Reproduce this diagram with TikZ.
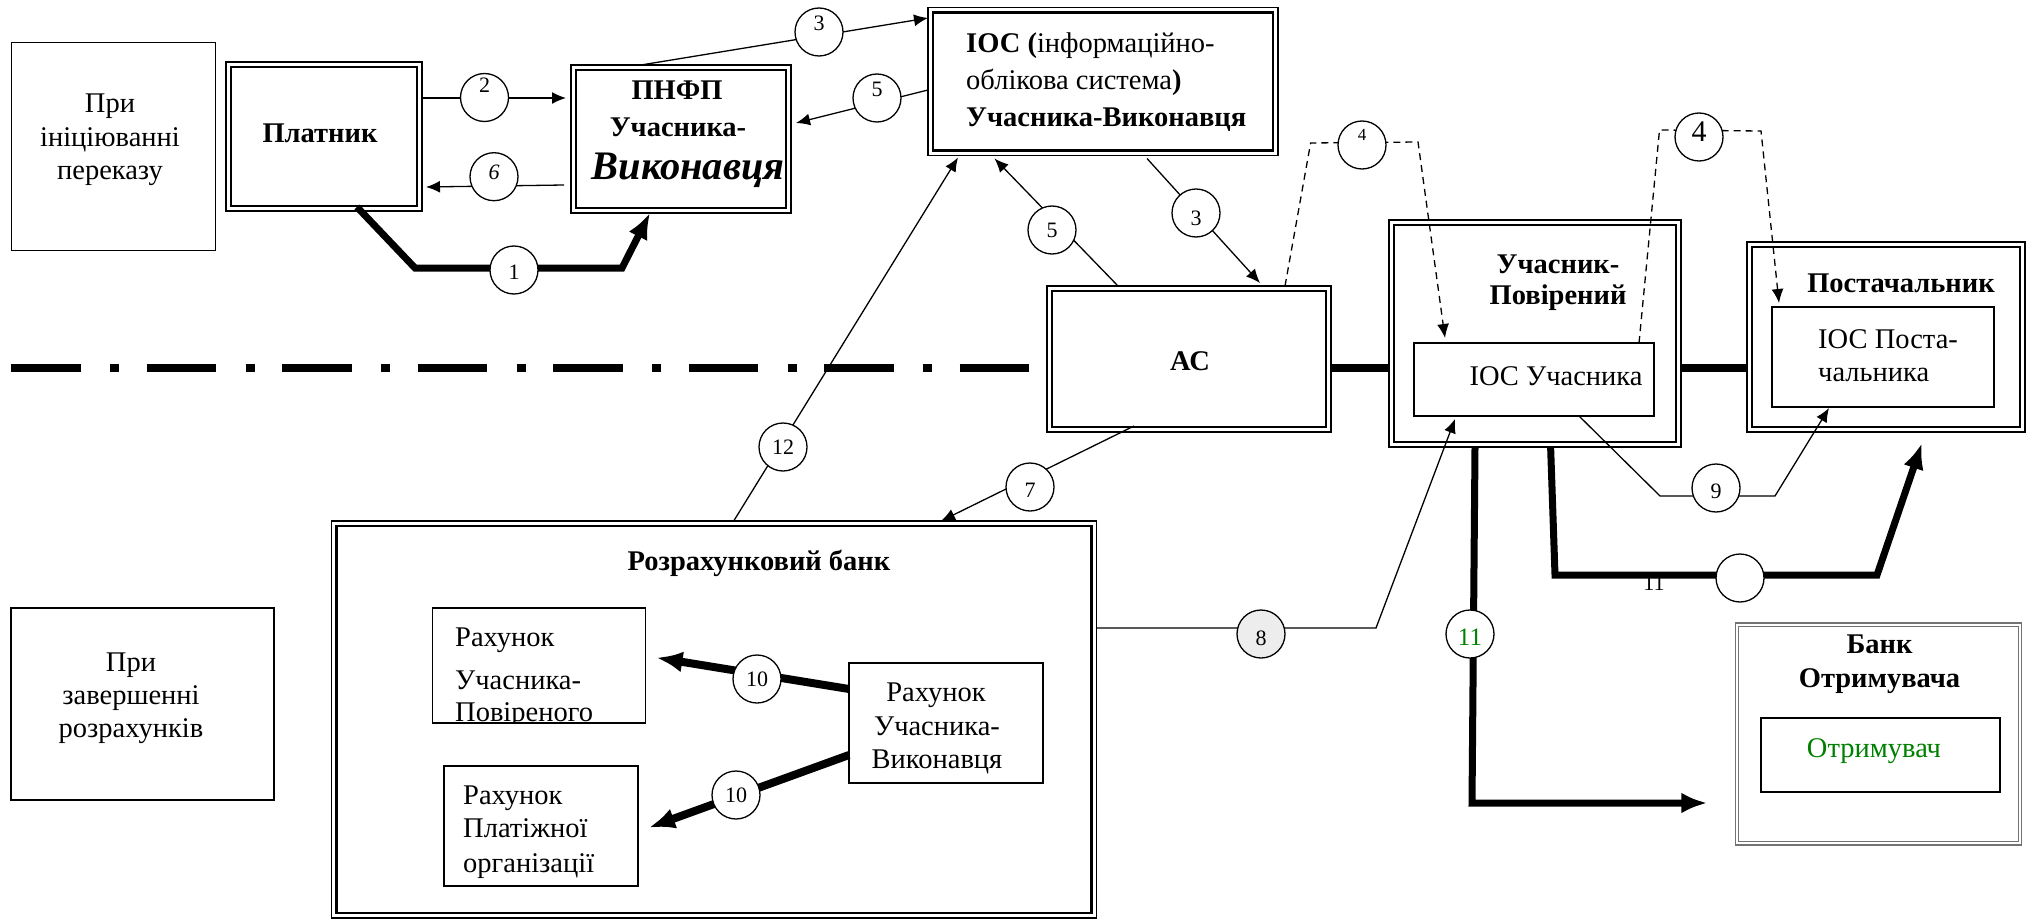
\documentclass[tikz,border=0pt]{standalone}
\usepackage{fontspec}
\setmainfont{Liberation Serif}
\usetikzlibrary{arrows.meta,shapes.geometric,calc}
\definecolor{dkgreen}{RGB}{0,128,0}
\newcommand\txtfont{\fontsize{28.5}{32}\selectfont}
\newcommand\numfont{\fontsize{22}{24}\selectfont}
\begin{document}
\begin{tikzpicture}[x=1pt,y=-1pt,
  box/.style={draw, line width=1.3pt, inner sep=0pt, outer sep=0pt, fill=white},
  dbox/.style={box, line width=1.5pt},
  gbox/.style={box, draw=black!55, line width=1.2pt},
  lbl/.style={anchor=base, inner sep=0pt, font=\txtfont},
  lblw/.style={lbl, anchor=base west},
  num/.style={circle, draw, line width=1.3pt, fill=white, minimum size=48pt, inner sep=0pt},
  numt/.style={inner sep=0pt, font=\numfont},
  arr/.style={line width=1.3pt, -{Latex[length=14pt,width=12pt]}},
  bigarr/.style={line width=7pt, -{Latex[length=26pt,width=21pt]}},
  dasharr/.style={arr, dash pattern=on 7pt off 5pt},
  link/.style={line width=8pt},
  dashdot/.style={line width=8pt, dash pattern=on 69.7pt off 29.3pt on 9pt off 27.5pt}
]
\useasboundingbox (0,0) rectangle (2033,920);

% ---------- outer boxes
\node[box, minimum width=204pt, minimum height=208pt] (initbox) at (113.5,146.7) {};
\node[dbox, minimum width=196pt, minimum height=149pt] (platnik) at (324,136.5) {};
\node[dbox, minimum width=220pt, minimum height=148pt] (pnfp) at (681,139) {};
\node[dbox, minimum width=350pt, minimum height=148pt] (ioc) at (1103,81.5) {};
\node[dbox, minimum width=284pt, minimum height=146pt] (ac) at (1189,359) {};
\node[dbox, minimum width=292pt, minimum height=227pt] (up) at (1535,333.5) {};
\node[dbox, minimum width=278pt, minimum height=190pt] (post) at (1886,337) {};
\node[dbox, minimum width=765pt, minimum height=397pt] (bank) at (714,719.5) {};
\node[box, minimum width=263pt, minimum height=192pt] (finbox) at (142.5,704) {};
\node[gbox, minimum width=286.5pt, minimum height=222pt] (recbank) at (1878.5,734) {};
\foreach \n in {platnik,pnfp,ioc,ac,up,post,bank}
  \draw[line width=2.6pt] ([shift={(5pt,-5pt)}]\n.north west) rectangle ([shift={(-5pt,5pt)}]\n.south east);
\draw[draw=black!55, line width=1.2pt] ([shift={(3.4pt,-3.4pt)}]recbank.north west) rectangle ([shift={(-3.4pt,3.4pt)}]recbank.south east);

% ---------- inner boxes
\node[box, line width=2pt, minimum width=240pt, minimum height=73pt] (iocu) at (1534,379.5) {};
\node[box, line width=2pt, minimum width=222pt, minimum height=100pt] (iocp) at (1883,357) {};
\node[box, line width=1.5pt, minimum width=213pt, minimum height=115pt] (acc1) at (539,665.5) {};
\node[box, line width=1.5pt, minimum width=194pt, minimum height=120pt] (acc2) at (541,826) {};
\node[box, line width=1.5pt, minimum width=194pt, minimum height=120pt] (acc3) at (946,723) {};
\node[box, line width=2pt, minimum width=239pt, minimum height=74pt] (recv) at (1880.5,755) {};

% ---------- texts
\node[lbl] (ib1) at (110,113) {При};
\node[lbl] (ib2) at (110,147) {ініціюванні};
\node[lbl] (ib3) at (110,180) {переказу};
\node[lbl, font=\txtfont\bfseries] (pl1) at (320,143) {Платник};
\node[lbl, font=\txtfont\bfseries] (pn1) at (677,100) {ПНФП};
\node[lbl, font=\txtfont\bfseries] (pn2) at (678,137) {Учасника-};
\node[lbl, font=\fontsize{40.5}{42}\selectfont\bfseries\itshape] (pn3) at (688,180) {Виконавця};
\node[lblw] (io1) at (966,52.7) {\textbf{ІОС (}інформаційно-};
\node[lblw] (io2) at (966,90) {облікова система\textbf{)}};
\node[lblw, font=\txtfont\bfseries] (io3) at (966,126.7) {Учасника-Виконавця};
\node[lbl, font=\txtfont\bfseries] (ac1) at (1190,370) {АС};
\node[lbl, font=\txtfont\bfseries] (up1) at (1558,273) {Учасник-};
\node[lbl, font=\txtfont\bfseries] (up2) at (1558,304) {Повірений};
\node[lbl] (iu1) at (1556,385) {ІОС Учасника};
\node[lbl, font=\txtfont\bfseries] (ps1) at (1901,292) {Постачальник};
\node[lblw] (ip1) at (1818,348) {ІОС Поста-};
\node[lblw] (ip2) at (1818,381) {чальника};
\node[lbl, font=\txtfont\bfseries] (bk1) at (759,570) {Розрахунковий банк};
\begin{scope}
  \clip (acc1.south west) rectangle (acc1.north east);
  \node[lblw] (a11) at (455,646) {Рахунок};
  \node[lblw] (a12) at (455,689) {Учасника-};
  \node[lblw] (a13) at (455,721) {Повіреного};
\end{scope}
\node[lblw] (a21) at (463,804) {Рахунок};
\node[lblw] (a22) at (463,837) {Платіжної};
\node[lblw] (a23) at (463,872) {організації};
\node[lbl] (a31) at (936,701) {Рахунок};
\node[lbl] (a32) at (937,735) {Учасника-};
\node[lbl] (a33) at (937,768) {Виконавця};
\node[lbl] (fb1) at (131,671) {При};
\node[lbl] (fb2) at (131,704) {завершенні};
\node[lbl] (fb3) at (131,737) {розрахунків};
\node[lbl, font=\txtfont\bfseries] (rb1) at (1879.5,653) {Банк};
\node[lbl, font=\txtfont\bfseries] (rb2) at (1879.5,687) {Отримувача};
\node[lbl, text=dkgreen] (rv1) at (1874,757) {Отримувач};

% ---------- thick links and separator
\draw[link] ([yshift=-9pt]ac.east) -- ([yshift=-9pt]ac.east -| up.west);
\draw[link] ([yshift=-34.5pt]up.east) -- ([yshift=-34.5pt]up.east -| post.west);
\coordinate (dl) at (11,368);
\draw[dashdot] (dl) -- (dl -| ac.west);

% ---------- connectors
\draw[arr] ([yshift=38.5pt]platnik.east) -- ([xshift=-5pt,yshift=41pt]pnfp.west);
\draw[arr] ([xshift=-7pt,yshift=-46pt]pnfp.west) -- ([xshift=4pt,yshift=-50.5pt]platnik.east);
\draw[bigarr] ([xshift=33pt,yshift=4pt]platnik.south) -- (415,268) -- (622,268) -- ([xshift=-31pt]pnfp.south);
\draw[arr] ([xshift=-40pt]pnfp.north) -- ([yshift=63.5pt]ioc.west);
\draw[arr] ([yshift=-8.5pt]ioc.west) -- ([xshift=5pt,yshift=16pt]pnfp.east);
\draw[arr] ([xshift=-71pt]ac.north) -- ([xshift=-108.5pt,yshift=-3pt]ioc.south);
\draw[arr] ([xshift=44pt,yshift=-3pt]ioc.south) -- ([xshift=71pt,yshift=3pt]ac.north);
\draw[arr] ([xshift=19.7pt]bank.north) -- ([xshift=-145pt,yshift=-2pt]ioc.south);
\draw[arr] ([xshift=-55pt,yshift=6pt]ac.south) -- ([xshift=227pt]bank.north);
\draw[dasharr] ([xshift=96pt]ac.north) -- (1310.6,143) -- (1418,142) -- ([xshift=-89pt,yshift=5pt]iocu.north);
\draw[dasharr] ([xshift=105pt]iocu.north) -- (1659.5,130) -- (1761,131) -- ([xshift=-104pt,yshift=4pt]iocp.north);
\draw[arr] ([yshift=91.5pt]bank.east) -- (1376,628) -- ([xshift=-79pt,yshift=-3pt]iocu.south);
\draw[arr] ([xshift=45pt]iocu.south) -- (1660,496) -- (1775,496) -- ([xshift=-54pt,yshift=-1pt]iocp.south);
\draw[bigarr] ([xshift=-60pt]up.south) -- (1472,803) -- ([xshift=-28pt,yshift=-69pt]recbank.west);
\node[lbl, font=\numfont] (l11) at (1654,590) {11};
\draw[bigarr] ([xshift=15.6pt]up.south) -- (1555,575) -- (1877,575) -- ([xshift=36pt,yshift=-11pt]post.south);
\draw[bigarr, line width=8pt] ([yshift=34pt]acc3.west) -- ([xshift=11pt,yshift=7.8pt]acc1.east);
\draw[bigarr, line width=8pt] ([yshift=-32pt]acc3.west) -- ([xshift=11pt,yshift=-1.6pt]acc2.east);

% ---------- numbered circles
\node[num] (n1) at (514,270) {};   \node[numt] (t1) at ([yshift=-2pt]n1.center) {1};
\node[num] (n2) at (484.5,97.5) {}; \node[numt] (t2) at ([yshift=12pt]n2.center) {2};
\node[num] (n3a) at (819,32) {};   \node[numt] (t3a) at ([yshift=9pt]n3a.center) {3};
\node[num] (n5a) at (877,98) {};   \node[numt] (t5a) at ([yshift=9pt]n5a.center) {5};
\node[num] (n6) at (494,176.7) {}; \node[numt, font=\numfont\itshape] (t6) at ([yshift=4pt]n6.center) {6};
\node[num] (n5b) at (1052,230) {}; \node[numt] (t5b) at (n5b.center) {5};
\node[num] (n3b) at (1196,213) {}; \node[numt] (t3b) at ([yshift=-5pt]n3b.center) {3};
\node[num] (n4a) at (1362,145) {}; \node[numt, font=\fontsize{17}{17}\selectfont] (t4a) at ([yshift=10pt]n4a.center) {4};
\node[num] (n4b) at (1699,137) {}; \node[numt, font=\fontsize{30}{30}\selectfont] (t4b) at ([yshift=5pt]n4b.center) {4};
\node[num] (n12) at (783,447) {};  \node[numt] (t12) at (n12.center) {12};
\node[num] (n7) at (1030,487) {};  \node[numt] (t7) at ([yshift=-3pt]n7.center) {7};
\node[num, fill=black!7] (n8) at (1261,634) {}; \node[numt] (t8) at ([yshift=-4pt]n8.center) {8};
\node[num] (n9) at (1716,488) {};  \node[numt] (t9) at ([yshift=-3pt]n9.center) {9};
\node[num] (n11a) at (1470,634) {}; \node[numt, text=dkgreen, font=\fontsize{25}{25}\selectfont] (t11a) at ([yshift=-3pt]n11a.center) {11};
\node[num] (n11b) at (1740,578) {};
\node[num] (n10a) at (757,679) {}; \node[numt] (t10a) at (n10a.center) {10};
\node[num] (n10b) at (736,795) {}; \node[numt] (t10b) at (n10b.center) {10};
\end{tikzpicture}
\end{document}
